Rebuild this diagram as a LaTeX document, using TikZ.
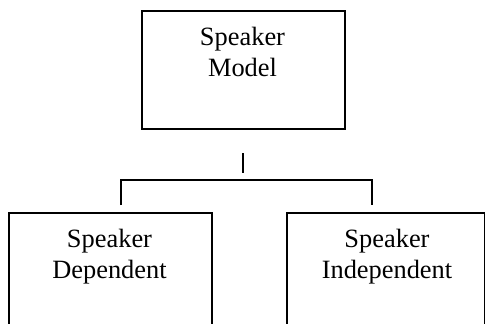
\documentclass[tikz,border=0pt]{standalone}
\usepackage{fontspec}
\setmainfont{Liberation Serif}
\begin{document}
\begin{tikzpicture}[x=1pt,y=-1pt,
  box/.style={draw=black,line width=1.8pt,inner sep=0pt,anchor=north west},
  lbl/.style={align=center,inner sep=0pt,anchor=base,font=\fontsize{26.4}{30.5}\selectfont},
  conn/.style={draw=black,line width=1.8pt}]
\useasboundingbox (0,0) rectangle (485,324);
% boxes
\node[box,minimum width=203pt,minimum height=118pt] (top) at (141,10) {};
\node[box,minimum width=203pt,minimum height=140pt] (left) at (8,212) {};
\node[box,minimum width=198pt,minimum height=140pt] (right) at (286,212) {};
% labels
\node[lbl] (ttop) at (242.5,76) {Speaker\\Model};
\node[lbl] (tleft) at (109.5,278) {Speaker\\Dependent};
\node[lbl] (tright) at (387,278) {Speaker\\Independent};
% connectors
\coordinate (s1) at (243,153);
\coordinate (s2) at (243,173);
\coordinate (hl) at (121,180);
\coordinate (hr) at (372,180);
\coordinate (dl) at (121,205);
\coordinate (dr) at (372,205);
\draw[conn] (s1) -- (s2);
\draw[conn] (dl) -- (hl) -- (hr) -- (dr);
\end{tikzpicture}
\end{document}
